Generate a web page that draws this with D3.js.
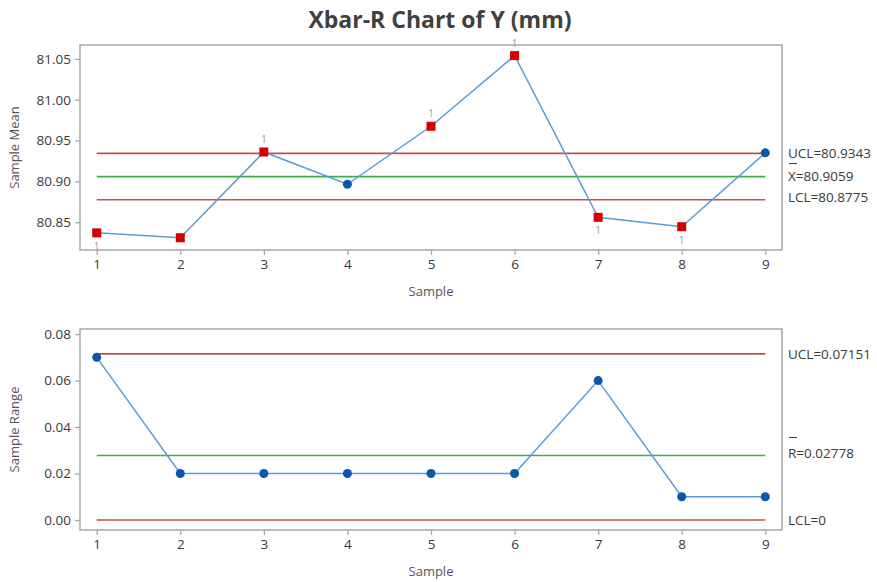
<!DOCTYPE html>
<html>
<head>
<meta charset="utf-8">
<title>Xbar-R Chart</title>
<script src="https://d3js.org/d3.v7.min.js"></script>
<style>
  body { margin: 0; background: #fff; }
  text { font-family: "Open Sans", "Noto Sans", sans-serif; }
</style>
</head>
<body>
<svg id="chart" width="877" height="582"></svg>
<script>
// data
var samples = [1, 2, 3, 4, 5, 6, 7, 8, 9];
var means   = [80.837, 80.831, 80.936, 80.8965, 80.9675, 81.054, 80.856, 80.8445, 80.935];
var ranges  = [0.07, 0.02, 0.02, 0.02, 0.02, 0.02, 0.06, 0.01, 0.01];
// test-1 flags: "" none, "a" label above, "b" label below, "n" flagged but label hidden
var meanFlags = ["b", "n", "a", "", "a", "a", "b", "b", ""];
var meanLimits  = {ucl: 80.9343, cl: 80.9059, lcl: 80.8775};
var rangeLimits = {ucl: 0.07151, cl: 0.02778, lcl: 0};
var meanTicks  = [80.85, 80.90, 80.95, 81.00, 81.05];
var rangeTicks = [0, 0.02, 0.04, 0.06, 0.08];

var svg = d3.select("#chart");
var RED = "#c0504d", GREEN = "#3aae49", BLUE = "#5b9bd5", DOT = "#0a58a8", SQ = "#d40000";
var FRAME = "#a6a6a6", TXT = "#3a3a3a", TITLE = "#555";

svg.append("text")
  .attr("x", 440).attr("y", 28)
  .attr("text-anchor", "middle")
  .attr("font-size", 23).attr("font-weight", "bold")
  .attr("fill", "#404040")
  .text("Xbar-R Chart of Y (mm)");

var x = d3.scaleLinear().domain([0.8, 9.2]).range([80, 782]);

function panel(opts) {
  var y = d3.scaleLinear().domain(opts.ydom).range([opts.bottom, opts.top]);
  var g = svg.append("g");
  var cid = "clip" + opts.id;

  svg.append("clipPath").attr("id", cid)
    .append("rect").attr("x", 80).attr("y", opts.top)
    .attr("width", 702).attr("height", opts.bottom - opts.top);

  // frame
  g.append("rect")
    .attr("x", 80).attr("y", opts.top)
    .attr("width", 702).attr("height", opts.bottom - opts.top)
    .attr("fill", "none").attr("stroke", FRAME).attr("stroke-width", 1.5);

  // axes
  var ya = g.append("g").attr("transform", "translate(80,0)")
    .call(d3.axisLeft(y).tickValues(opts.ticks).tickFormat(d3.format(".2f")).tickSize(5).tickPadding(4));
  var xa = g.append("g").attr("transform", "translate(0," + opts.bottom + ")")
    .call(d3.axisBottom(x).tickValues(samples).tickFormat(d3.format("d")).tickSize(5).tickPadding(4));
  [ya, xa].forEach(function (a) {
    a.select(".domain").remove();
    a.selectAll("line").attr("stroke", FRAME).attr("stroke-width", 1.3);
    a.selectAll("text").attr("font-size", 13.5).attr("fill", TXT);
  });

  g.append("text")
    .attr("x", 431).attr("y", opts.bottom + 46)
    .attr("text-anchor", "middle").attr("font-size", 13).attr("fill", TITLE)
    .text("Sample");
  g.append("text")
    .attr("transform", "translate(19," + ((opts.top + opts.bottom) / 2) + ") rotate(-90)")
    .attr("text-anchor", "middle").attr("font-size", 13).attr("fill", TITLE)
    .text(opts.ylabel);

  // limit lines
  var lim = opts.limits;
  [["ucl", RED], ["cl", GREEN], ["lcl", RED]].forEach(function (p) {
    g.append("line")
      .attr("x1", x(1)).attr("x2", x(9))
      .attr("y1", y(lim[p[0]])).attr("y2", y(lim[p[0]]))
      .attr("stroke", p[1]).attr("stroke-width", 1.6);
  });

  var inner = g.append("g").attr("clip-path", "url(#" + cid + ")");
  inner.append("path")
    .datum(opts.values)
    .attr("fill", "none").attr("stroke", BLUE).attr("stroke-width", 1.5)
    .attr("d", d3.line().x(function (d, i) { return x(samples[i]); }).y(function (d) { return y(d); }));

  opts.values.forEach(function (v, i) {
    var f = opts.flags ? opts.flags[i] : "";
    if (f) {
      g.append("rect")
        .attr("x", x(samples[i]) - 4.5).attr("y", y(v) - 4.5)
        .attr("width", 9).attr("height", 9).attr("fill", SQ);
      if (f === "a" || f === "b") {
        g.append("text")
          .attr("x", x(samples[i])).attr("y", y(v) + (f === "a" ? -9 : 17))
          .attr("text-anchor", "middle").attr("font-size", 10).attr("fill", "#999")
          .text("1");
      }
    } else {
      g.append("circle")
        .attr("cx", x(samples[i])).attr("cy", y(v)).attr("r", 4.5).attr("fill", DOT);
    }
  });

  // right-hand limit labels
  opts.labels.forEach(function (l) {
    g.append("text")
      .attr("x", 788).attr("y", l.y).attr("dy", "0.35em")
      .attr("font-size", 13.5).attr("fill", TXT)
      .text(l.text);
    if (l.bar) {
      g.append("line")
        .attr("x1", 789).attr("x2", 797)
        .attr("y1", l.y - l.bar).attr("y2", l.y - l.bar)
        .attr("stroke", TXT).attr("stroke-width", 1);
    }
  });
  return y;
}

var yTop = d3.scaleLinear().domain([80.816, 81.067]).range([250, 45]);
panel({
  id: "m", top: 45, bottom: 250, ydom: [80.816, 81.067], ticks: meanTicks,
  ylabel: "Sample Mean", values: means, flags: meanFlags, limits: meanLimits,
  labels: [
    {y: yTop(meanLimits.ucl), text: "UCL=" + meanLimits.ucl},
    {y: yTop(meanLimits.cl), text: "X=" + meanLimits.cl, bar: 13},
    {y: yTop(meanLimits.lcl) - 2, text: "LCL=" + meanLimits.lcl}
  ]
});

var yBot = d3.scaleLinear().domain([-0.0043, 0.0822]).range([530, 329]);
panel({
  id: "r", top: 329, bottom: 530, ydom: [-0.0043, 0.0822], ticks: rangeTicks,
  ylabel: "Sample Range", values: ranges, flags: null, limits: rangeLimits,
  labels: [
    {y: yBot(rangeLimits.ucl), text: "UCL=" + rangeLimits.ucl},
    {y: yBot(rangeLimits.cl) - 2, text: "R=" + rangeLimits.cl, bar: 16},
    {y: yBot(rangeLimits.lcl), text: "LCL=" + rangeLimits.lcl}
  ]
});
</script>
</body>
</html>
